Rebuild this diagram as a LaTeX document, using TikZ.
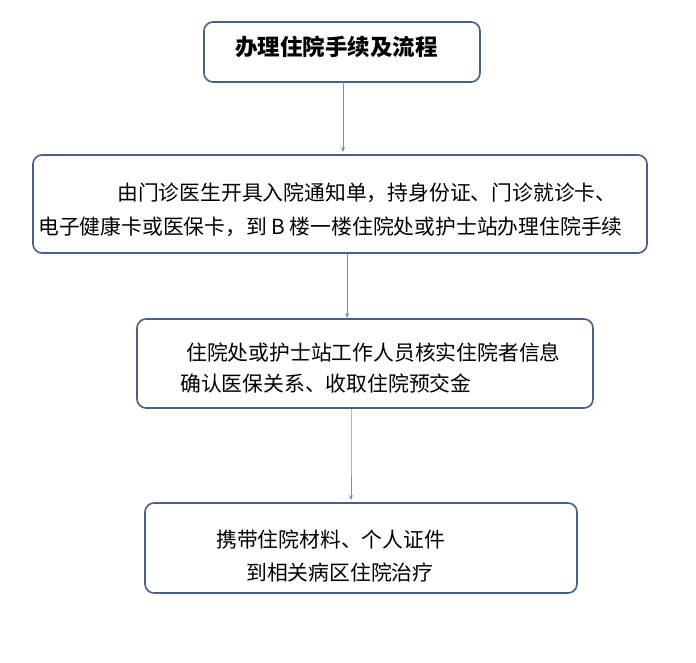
\documentclass[tikz,border=0pt]{standalone}
\usepackage{fontspec}
\newfontfamily\cjk{Noto Sans CJK SC}
\usetikzlibrary{arrows.meta}
\definecolor{bd}{RGB}{70,95,135}
\definecolor{ar}{RGB}{90,150,210}
\begin{document}
\begin{tikzpicture}[x=1pt,y=-1pt,
 box/.style={draw=bd,line width=1.6pt,rounded corners=9pt},
 txt/.style={anchor=west,inner sep=0pt,font=\cjk\fontsize{20.8}{22}\selectfont},
 arr/.style={draw=ar,line width=0.7pt,-{Stealth[length=5pt,width=4pt]}}]
\useasboundingbox (0,0) rectangle (696,663);
\draw[box] (204,22) rectangle (480,82);
\draw[box] (33,155) rectangle (647,253);
\draw[box] (137,319) rectangle (593,408);
\draw[box] (145,503) rectangle (577,593);
\node[txt,font=\cjk\bfseries\fontsize{22.5}{24}\selectfont] (t) at (235,47) {办理住院手续及流程};
\node[txt] (a1) at (117,193) {由门诊医生开具入院通知单，持身份证、门诊就诊卡、};
\node[txt] (a2) at (38,227) {电子健康卡或医保卡，到 B 楼一楼住院处或护士站办理住院手续};
\node[txt] (b1) at (186,353) {住院处或护士站工作人员核实住院者信息};
\node[txt] (b2) at (180,384) {确认医保关系、收取住院预交金};
\node[txt] (c1) at (216,540) {携带住院材料、个人证件};
\node[txt] (c2) at (246,573) {到相关病区住院治疗};
\coordinate (p1) at (343,82); \coordinate (q1) at (343,152);
\coordinate (p2) at (347,254); \coordinate (q2) at (347,318);
\coordinate (p3) at (351,409); \coordinate (k3) at (351,455); \coordinate (q3) at (351,500);
\draw[arr] (p1) -- (q1);
\draw[arr] (p2) -- (q2);
\draw[arr] (p3) -- (k3) -- (q3);
\end{tikzpicture}
\end{document}
